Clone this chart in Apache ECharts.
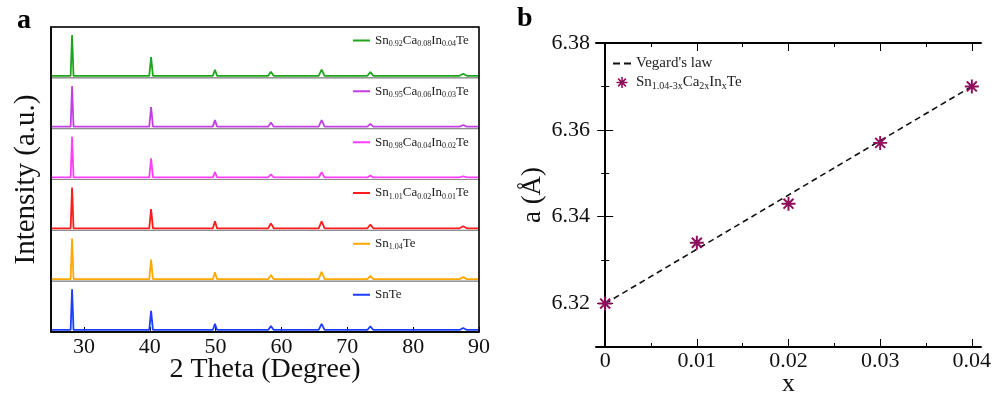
<!DOCTYPE html>
<html>
<head>
<meta charset="utf-8">
<script src="https://cdn.jsdelivr.net/npm/echarts@6/dist/echarts.min.js"></script>
<style>
  html, body { margin: 0; padding: 0; background: #fff; }
  #chart { width: 995px; height: 393px; }
</style>
</head>
<body>
<div id="chart"></div>
<script>
// ---- panel a: XRD patterns (top to bottom) ----
const xrdTicks = [30, 40, 50, 60, 70, 80, 90];
const peakPos = [28.2, 40.2, 49.9, 58.4, 66.1, 73.5, 87.6];
const peakHalfWidth = [0.22, 0.28, 0.32, 0.42, 0.45, 0.45, 0.55];
const sampleNames = [
  'Sn0.92Ca0.08In0.04Te',
  'Sn0.95Ca0.06In0.03Te',
  'Sn0.98Ca0.04In0.02Te',
  'Sn1.01Ca0.02In0.01Te',
  'Sn1.04Te',
  'SnTe'
];
const sampleLabels = [
  'Sn{s|0.92}Ca{s|0.08}In{s|0.04}Te',
  'Sn{s|0.95}Ca{s|0.06}In{s|0.03}Te',
  'Sn{s|0.98}Ca{s|0.04}In{s|0.02}Te',
  'Sn{s|1.01}Ca{s|0.02}In{s|0.01}Te',
  'Sn{s|1.04}Te',
  'SnTe'
];
const sampleColors = ['#1ea51e', '#c23fe3', '#ff3dff', '#ff1c1c', '#ffa800', '#1c3fff'];
const peakHeights = [
  [100, 46, 15, 10, 15, 9, 5],
  [100, 48, 16, 10, 16, 7, 4],
  [100, 47, 13, 8, 13, 5, 3],
  [100, 47, 17, 12, 17, 9, 5],
  [100, 48, 17, 10, 18, 8, 5],
  [100, 47, 15, 10, 15, 9, 5]
];

// ---- panel b: lattice parameter ----
const xVals = [0, 0.01, 0.02, 0.03, 0.04];
const aVals = [6.320, 6.334, 6.343, 6.357, 6.370];
const vegardX = [0, 0.04];
const vegardA = [6.320, 6.370];
const bXTicks = [0, 0.01, 0.02, 0.03, 0.04];
const bXMinor = [0.005, 0.015, 0.025, 0.035];
const bYTicks = [6.32, 6.34, 6.36, 6.38];
const bYMinor = [6.33, 6.35, 6.37];

const serif = '"Liberation Serif", "DejaVu Serif", serif';
const asterisk = 'path://M8.6,0H11.4V20H8.6Z M0,8.6H20V11.4H0Z M1.9,3.9L3.9,1.9L18.1,16.1L16.1,18.1Z M16.1,1.9L18.1,3.9L3.9,18.1L1.9,16.1Z';
const lineIcon = 'path://M0,0Z M0,10Z M0,4H17V6H0Z';
const dashIcon = 'path://M0,0Z M0,11Z M0,4.5H7V6.5H0Z M11,4.5H18V6.5H11Z';

// sharp peaks on a flat baseline
function pattern(heights) {
  const pts = [[25, 0]];
  peakPos.forEach((p, i) => {
    pts.push([p - peakHalfWidth[i], 0], [p, heights[i]], [p + peakHalfWidth[i], 0]);
  });
  pts.push([90, 0]);
  return pts;
}

const aLeft = 51, aTop = 27, aWidth = 428, aHeight = 305;
const panelH = aHeight / sampleNames.length;

const grid = [
  { left: aLeft, top: aTop, width: aWidth, height: aHeight, show: true, outerBoundsMode: 'none',
    borderColor: '#000', borderWidth: 1.5, z: 5, backgroundColor: 'transparent' }
];
const xAxis = [
  {
    gridIndex: 0, type: 'value', min: 25, max: 90,
    axisLine: { show: true, lineStyle: { color: '#000', width: 1.5 } },
    axisTick: { inside: true, length: 5, customValues: xrdTicks, lineStyle: { color: '#000' } },
    axisLabel: { customValues: xrdTicks, fontFamily: serif, fontSize: 22, color: '#111', margin: 4 },
    splitLine: { show: false },
    name: '2 Theta (Degree)', nameLocation: 'middle', nameGap: 24, nameMoveOverlap: false,
    nameTextStyle: { fontFamily: serif, fontSize: 28, color: '#111' }
  }
];
const yAxis = [
  {
    gridIndex: 0, type: 'value', min: 0, max: 1,
    axisLine: { show: true, lineStyle: { color: '#000', width: 1.5 } },
    axisTick: { show: false }, axisLabel: { show: false }, splitLine: { show: false },
    name: 'Intensity (a.u.)', nameLocation: 'middle', nameGap: 10,
    nameTextStyle: { fontFamily: serif, fontSize: 29, color: '#111' }
  }
];
const series = [];
const legend = [];

sampleNames.forEach((name, i) => {
  const gi = grid.length;
  const top = aTop + i * panelH;
  grid.push({ left: aLeft, top: top, width: aWidth, height: panelH, show: true,
    outerBoundsMode: 'none', borderColor: '#8c8c8c', borderWidth: 1 });
  xAxis.push({ gridIndex: gi, type: 'value', min: 25, max: 90, show: false });
  yAxis.push({ gridIndex: gi, type: 'value', min: -5, max: 120, show: false });
  series.push({
    name: name, type: 'line', xAxisIndex: gi, yAxisIndex: gi,
    data: pattern(peakHeights[i]), symbol: 'none', silent: true,
    lineStyle: { color: sampleColors[i], width: 1.8 }, itemStyle: { color: sampleColors[i] }
  });
  legend.push({
    data: [name], left: 348, top: top + 2, itemWidth: 17, itemHeight: 10, icon: lineIcon,
    formatter: () => sampleLabels[i],
    textStyle: {
      fontFamily: serif, fontSize: 13, color: '#222',
      rich: { s: { fontFamily: serif, fontSize: 8, color: '#222', padding: [7, 0, 0, 0] } }
    }
  });
});

// panel b
const gb = grid.length;
grid.push({ left: 596, top: 43, width: 385, height: 304, show: false, outerBoundsMode: 'none' });
const bx = { gridIndex: gb, type: 'value', min: -0.001, max: 0.041, splitLine: { show: false } };
const by = { gridIndex: gb, type: 'value', min: 6.31, max: 6.38, splitLine: { show: false } };
const xb0 = xAxis.length;
xAxis.push(
  Object.assign({}, bx, {
    position: 'bottom',
    axisLine: { show: true, lineStyle: { color: '#000', width: 2 } },
    axisTick: { inside: true, length: 8, customValues: bXTicks, lineStyle: { color: '#000' } },
    axisLabel: { customValues: bXTicks, fontFamily: serif, fontSize: 22, color: '#111', margin: 3,
      formatter: v => (v === 0 ? '0' : v.toFixed(2)) },
    name: 'x', nameLocation: 'middle', nameGap: 24, nameMoveOverlap: false,
    nameTextStyle: { fontFamily: serif, fontSize: 26, color: '#111' }
  }),
  Object.assign({}, bx, {
    position: 'bottom', axisLine: { show: false }, axisLabel: { show: false },
    axisTick: { inside: true, length: 4, customValues: bXMinor, lineStyle: { color: '#000' } }
  }),
  Object.assign({}, bx, {
    position: 'top', axisLabel: { show: false },
    axisLine: { show: true, lineStyle: { color: '#000', width: 2 } },
    axisTick: { inside: true, length: 8, customValues: bXTicks, lineStyle: { color: '#000' } }
  }),
  Object.assign({}, bx, {
    position: 'top', axisLine: { show: false }, axisLabel: { show: false },
    axisTick: { inside: true, length: 4, customValues: bXMinor, lineStyle: { color: '#000' } }
  })
);
const yb0 = yAxis.length;
yAxis.push(
  Object.assign({}, by, {
    position: 'left',
    axisLine: { show: true, lineStyle: { color: '#000', width: 2 } },
    axisTick: { inside: true, length: 8, customValues: bYTicks, lineStyle: { color: '#000' } },
    axisLabel: { customValues: bYTicks, fontFamily: serif, fontSize: 22, color: '#111', margin: 6,
      formatter: v => v.toFixed(2) },
    name: 'a (Å)', nameLocation: 'middle', nameGap: 50,
    nameTextStyle: { fontFamily: serif, fontSize: 27, color: '#111' }
  }),
  Object.assign({}, by, {
    position: 'left', axisLine: { show: false }, axisLabel: { show: false },
    axisTick: { inside: true, length: 4, customValues: bYMinor, lineStyle: { color: '#000' } }
  }),
  Object.assign({}, by, {
    position: 'right', axisLabel: { show: false },
    axisLine: { show: true, lineStyle: { color: '#000', width: 2 } },
    axisTick: { inside: true, length: 8, customValues: bYTicks, lineStyle: { color: '#000' } }
  }),
  Object.assign({}, by, {
    position: 'right', axisLine: { show: false }, axisLabel: { show: false },
    axisTick: { inside: true, length: 4, customValues: bYMinor, lineStyle: { color: '#000' } }
  })
);
series.push(
  {
    name: "Vegard's law", type: 'line', xAxisIndex: xb0, yAxisIndex: yb0,
    data: vegardX.map((x, i) => [x, vegardA[i]]), symbol: 'none', silent: true,
    lineStyle: { color: '#111', width: 1.6, type: [6, 4] }, itemStyle: { color: '#111' }, z: 3
  },
  {
    name: 'sample', type: 'scatter', xAxisIndex: xb0, yAxisIndex: yb0,
    data: xVals.map((x, i) => [x, aVals[i]]), symbol: asterisk, symbolSize: 14,
    itemStyle: { color: '#8f0f5c', opacity: 1 }, z: 4
  }
);
legend.push({
  data: [{ name: "Vegard's law", icon: dashIcon }, { name: 'sample' }],
  orient: 'vertical', left: 608, top: 51,
  itemWidth: 18, itemHeight: 11, itemGap: 4,
  formatter: n => (n === 'sample' ? 'Sn{s|1.04-3x}Ca{s|2x}In{s|x}Te' : n),
  textStyle: {
    fontFamily: serif, fontSize: 15, color: '#222',
    rich: { s: { fontFamily: serif, fontSize: 10, color: '#222', padding: [8, 0, 0, 0] } }
  }
});

const chart = echarts.init(document.getElementById('chart'));
chart.setOption({
  animation: false,
  backgroundColor: '#fff',
  title: [
    { text: 'a', left: 12, top: 2, textStyle: { fontFamily: serif, fontSize: 28, fontWeight: 'bold', color: '#000' } },
    { text: 'b', left: 512, top: 0, textStyle: { fontFamily: serif, fontSize: 28, fontWeight: 'bold', color: '#000' } }
  ],
  grid: grid,
  xAxis: xAxis,
  yAxis: yAxis,
  legend: legend,
  series: series
});
</script>
</body>
</html>
